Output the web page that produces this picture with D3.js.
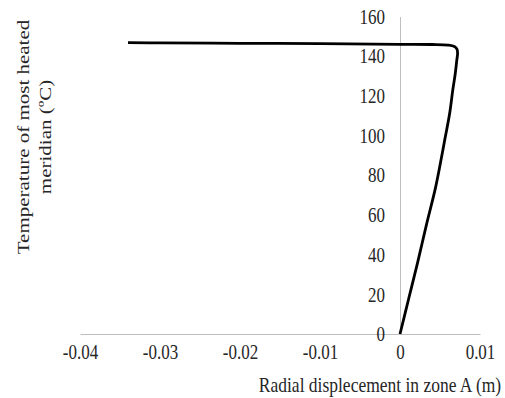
<!DOCTYPE html>
<html><head><meta charset="utf-8">
<script src="https://cdn.jsdelivr.net/npm/d3@7"></script>
<style>
html,body{margin:0;padding:0;background:#fff;}
svg{display:block;}
text{font-family:"Liberation Serif","Times New Roman",serif;fill:#262626;}
</style></head>
<body>
<svg id="c" width="505" height="398"></svg>
<script>
// Data
const displacement = [0, 0.0011, 0.0022, 0.0033, 0.0044, 0.0050, 0.0056, 0.0062, 0.0066, 0.0069, 0.0071, 0.00720, 0.00712, 0.0068, 0.0060, 0.0040, 0.0, -0.010, -0.020, -0.030, -0.034];
const temperature  = [0, 18, 36, 55, 73, 85, 98, 111, 123, 131, 138, 141.5, 143.6, 144.9, 145.6, 145.9, 146.0, 146.3, 146.5, 146.7, 146.8];
const xTicks = [-0.04, -0.03, -0.02, -0.01, 0, 0.01];
const xTickLabels = ["-0.04", "-0.03", "-0.02", "-0.01", "0", "0.01"];
const yTicks = [0, 20, 40, 60, 80, 100, 120, 140, 160];
const xTitle = "Radial displecement in zone A (m)";
const yTitleLines = ["Temperature of most heated", "meridian (ºC)"];

const FONT = '"Liberation Serif", "Times New Roman", serif';
const svg = d3.select("#c");
const SY = 1.2; // vertical stretch of the reference text
const x = d3.scaleLinear().domain([-0.04, 0.01]).range([80, 480]);
const y = d3.scaleLinear().domain([0, 160]).range([334, 16.5]);

// X axis
const gx = svg.append("g").attr("transform", `translate(0,${y(0)})`)
  .call(d3.axisBottom(x).tickValues(xTicks).tickSize(0).tickSizeOuter(0)
    .tickFormat((d, i) => xTickLabels[i]))
  .attr("font-family", FONT).attr("font-size", 17);
gx.select(".domain").attr("stroke", "#bfbfbf").attr("stroke-width", 1);
gx.selectAll(".tick text").attr("y", 0).attr("dy", "0.33em")
  .attr("transform", `translate(0,18.5) scale(1,${SY})`)
  .attr("fill", "#262626");

// Y axis
const gy = svg.append("g").attr("transform", `translate(${x(0)},0)`)
  .call(d3.axisLeft(y).tickValues(yTicks).tickSize(0).tickSizeOuter(0).tickFormat(d3.format("d")))
  .attr("font-family", FONT).attr("font-size", 17);
gy.select(".domain").attr("stroke", "#bfbfbf").attr("stroke-width", 1);
gy.selectAll(".tick text").attr("x", 0).attr("dy", "0.33em")
  .attr("transform", `translate(-15,0) scale(1,${SY})`)
  .attr("fill", "#262626");

// Line
const pts = displacement.map((d, i) => [d, temperature[i]]);
svg.append("path").datum(pts)
  .attr("fill", "none").attr("stroke", "#000").attr("stroke-width", 2.8)
  .attr("stroke-linejoin", "round").attr("stroke-linecap", "butt")
  .attr("d", d3.line().x(d => x(d[0])).y(d => y(d[1])).curve(d3.curveCatmullRom.alpha(0.5)));

// Axis titles
svg.append("text").attr("text-anchor", "middle")
  .attr("transform", `translate(380,392) scale(1,${SY})`)
  .attr("font-family", FONT).attr("font-size", 17.5).text(xTitle);

yTitleLines.forEach((t, i) => {
  svg.append("text").attr("text-anchor", "middle")
    .attr("transform", `translate(${29 + i * 22},137) scale(1,${SY}) rotate(-90)`)
    .attr("font-family", FONT).attr("font-size", 17.5).text(t);
});
</script>
</body></html>
